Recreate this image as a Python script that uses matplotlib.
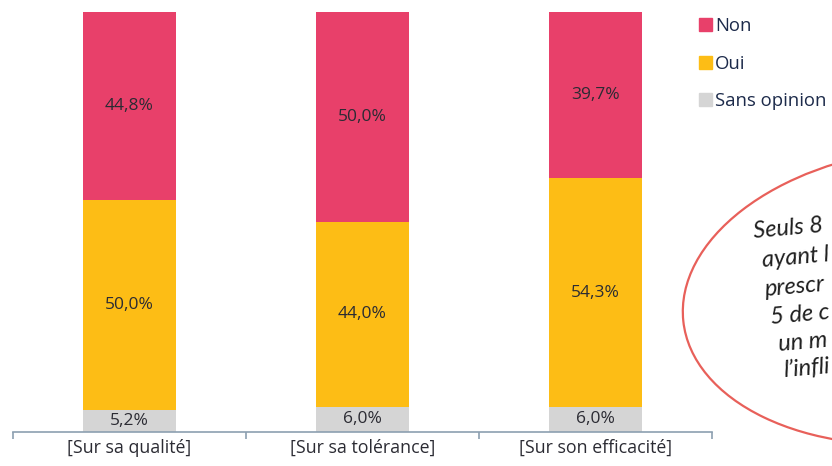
import matplotlib
matplotlib.use("Agg")
import matplotlib.pyplot as plt
from matplotlib.patches import Ellipse, Patch
import numpy as np

categories = ["[Sur sa qualité]", "[Sur sa tolérance]", "[Sur son efficacité]"]
sans_opinion = [5.2, 6.0, 6.0]
oui = [50.0, 44.0, 54.3]
non = [44.8, 50.0, 39.7]

note_lines = ["Seuls 8", "ayant l", "prescr", "5 de c", "un m", "l\u2019infli"]

C_NON = "#E8406A"
C_OUI = "#FDBD15"
C_SANS = "#D5D5D5"
TXT = "#2b2b33"

plt.rcParams["font.family"] = ["Open Sans", "DejaVu Sans"]

fig = plt.figure(figsize=(8.32, 4.66), dpi=100)
ax = fig.add_axes([13 / 832, 34 / 466, 699 / 832, 420.5 / 466])

x = np.arange(len(categories))
w = 0.40
sans = np.array(sans_opinion)
o = np.array(oui)
n = np.array(non)

ax.bar(x, sans, w, color=C_SANS)
ax.bar(x, o, w, bottom=sans, color=C_OUI)
ax.bar(x, n, w, bottom=sans + o, color=C_NON)

def pct(v):
    return f"{v:.1f}".replace(".", ",") + "%"

for i in range(len(x)):
    ax.text(x[i], sans[i] / 2, pct(sans[i]), ha="center", va="center", fontsize=12.5, color=TXT)
    ax.text(x[i], sans[i] + o[i] / 2, pct(o[i]), ha="center", va="center", fontsize=12.5, color=TXT)
    ax.text(x[i], sans[i] + o[i] + n[i] / 2, pct(n[i]), ha="center", va="center", fontsize=12.5, color=TXT)

ax.set_xlim(-0.5, len(x) - 0.5)
ax.set_ylim(0, 100)
for s in ["top", "left", "right"]:
    ax.spines[s].set_visible(False)
ax.spines["bottom"].set_color("#8c9fb0")
ax.spines["bottom"].set_linewidth(1.2)
ax.set_yticks([])

# boundary ticks between categories, labels on minor ticks
ax.set_xticks(np.arange(-0.5, len(x), 1.0))
ax.set_xticklabels([])
ax.tick_params(axis="x", which="major", length=5, width=1.2, color="#8c9fb0", direction="out")
ax.set_xticks(x, minor=True)
ax.set_xticklabels(categories, minor=True, fontsize=12.8, color=TXT)
ax.tick_params(axis="x", which="minor", length=0, pad=5)

# legend
handles = [Patch(color=C_NON), Patch(color=C_OUI), Patch(color=C_SANS)]
fig.legend(handles, ["Non", "Oui", "Sans opinion"], loc="upper left",
           bbox_to_anchor=(692 / 832, 1 - 10 / 466), frameon=False,
           handlelength=0.7, handleheight=0.7, handletextpad=0.15,
           labelspacing=1.05, fontsize=13.3, labelcolor="#1c2a4a", borderaxespad=0)

# callout bubble at the right edge
inch = fig.dpi_scale_trans
fig.add_artist(Ellipse((9.22, (466 - 296) / 100), 4.8, 2.95, angle=6,
                       transform=inch, fill=False, edgecolor="#E8605A", lw=1.6))
line_x = [753, 762, 765, 770, 778, 783]
line_y = [232, 261, 290, 318, 345, 371]
for t, px, py in zip(note_lines, line_x, line_y):
    fig.text(px / 100, (466 - py) / 100, t, transform=inch, ha="left", va="center",
             fontsize=17, style="italic", color="#1e1e1e", rotation=5,
             rotation_mode="anchor", family=["Lato", "DejaVu Sans"])

fig.savefig("out.png", dpi=100)
